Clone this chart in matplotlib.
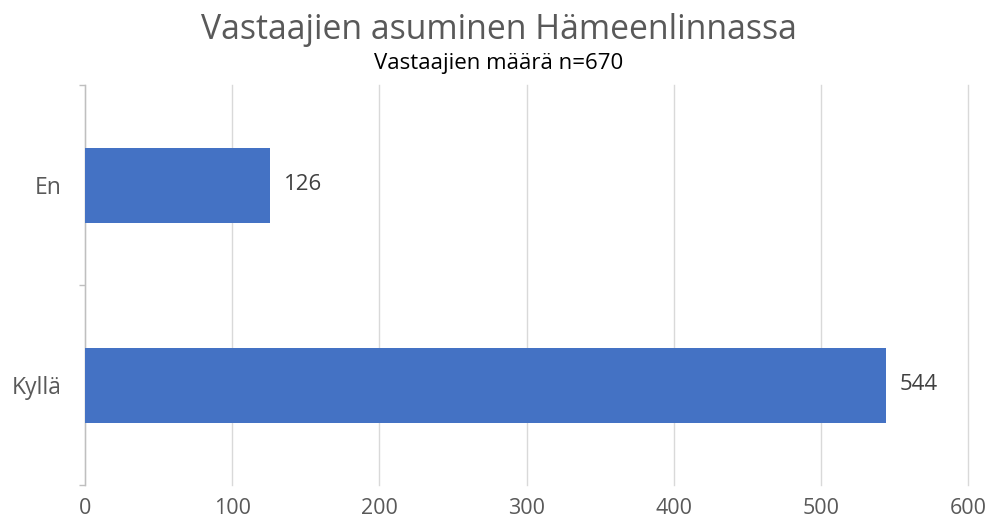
import matplotlib
matplotlib.use("Agg")
import matplotlib.pyplot as plt
from matplotlib.ticker import FixedLocator

categories = ["Kyllä", "En"]
values = [544, 126]
x_ticks = [0, 100, 200, 300, 400, 500, 600]
title = "Vastaajien asuminen Hämeenlinnassa"
subtitle = "Vastaajien määrä n=670"

plt.rcParams['font.family'] = ['Open Sans', 'DejaVu Sans']

W, H = 997, 527
fig = plt.figure(figsize=(W/100, H/100), dpi=100)
ax = fig.add_axes([85/W, 1-485/H, (968-85)/W, (485-85)/H])

pos = list(range(len(categories)))
bars = ax.barh(pos, values, height=0.375, color="#4472C4", zorder=3)
for p, v in zip(pos, values):
    ax.annotate(str(v), (v, p), xytext=(10, 0), textcoords="offset points",
                va="center", ha="left", fontsize=16, color="#404040")

ax.set_xlim(0, 600)
ax.set_ylim(-0.5, 1.5)
ax.set_xticks(x_ticks)
ax.set_xticklabels([str(t) for t in x_ticks], fontsize=15.5, color="#595959")
ax.tick_params(axis="x", length=0, pad=9.5)
ax.grid(axis="x", color="#d9d9d9", linewidth=1, zorder=0)
for gl in ax.get_xgridlines():
    gl.set_clip_on(False)
ax.set_yticks(pos)
ax.set_yticklabels(categories, fontsize=16.5, color="#595959")
ax.tick_params(axis="y", which="major", length=0, pad=17)
ax.yaxis.set_minor_locator(FixedLocator([-0.5, 0.5, 1.5]))
ax.tick_params(axis="y", which="minor", length=4, color="#bfbfbf", width=1)
for s in ["top", "right", "bottom"]:
    ax.spines[s].set_visible(False)
ax.spines["left"].set_color("#bfbfbf")
ax.spines["left"].set_linewidth(1)

fig.text(0.5, 1-30/H, title, ha="center", va="center",
         fontsize=24.3, color="#595959")
fig.text(0.5, 1-63/H, subtitle, ha="center", va="center", fontsize=16, color="black")

fig.savefig("out.png", dpi=100)
